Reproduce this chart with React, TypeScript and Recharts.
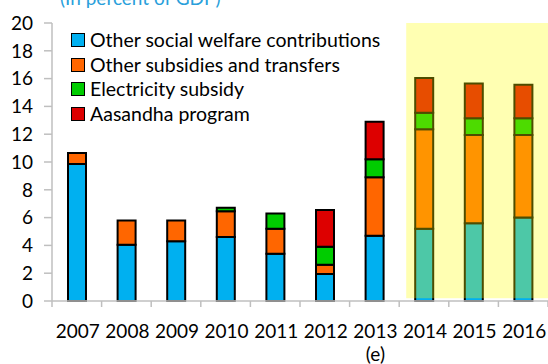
import { Bar, BarChart, ReferenceArea, XAxis, YAxis } from "recharts";

const years = ["2007", "2008", "2009", "2010", "2011", "2012", "2013", "2014", "2015", "2016"];
const welfare = [9.85, 4.05, 4.3, 4.6, 3.4, 1.95, 4.7, 5.2, 5.6, 6.0];
const otherSubsidies = [0.8, 1.75, 1.5, 1.85, 1.8, 0.65, 4.2, 7.15, 6.35, 5.95];
const electricity = [0, 0, 0, 0.25, 1.1, 1.3, 1.3, 1.2, 1.2, 1.2];
const aasandha = [0, 0, 0, 0, 0, 2.65, 2.7, 2.5, 2.5, 2.4];
const estimated = ["2013"];
const projStart = "2014";
const projEnd = "2016";
const yTicks = [0, 2, 4, 6, 8, 10, 12, 14, 16, 18, 20];

const series = [
  { key: "welfare", name: "Other social welfare contributions", color: "#00b0f0" },
  { key: "other", name: "Other subsidies and transfers", color: "#ff6600" },
  { key: "elec", name: "Electricity subsidy", color: "#00cc00" },
  { key: "aas", name: "Aasandha program", color: "#dd0000" },
];

const data = years.map((year, i) => ({
  year,
  welfare: welfare[i],
  other: otherSubsidies[i],
  elec: electricity[i],
  aas: aasandha[i],
}));

const W = 548;
const H = 364;
const LEFT = 52;
const BAND = (W - LEFT) / years.length;
const font = "Lato, 'Open Sans', sans-serif";
const axisGrey = "#bfbfbf";

function YearTick(props: any) {
  const { x, y, payload, index } = props;
  return (
    <g>
      <line x1={x - BAND / 2} x2={x - BAND / 2} y1={y} y2={y + 6} stroke={axisGrey} strokeWidth={1.5} />
      {index === years.length - 1 && (
        <line x1={x + BAND / 2} x2={x + BAND / 2} y1={y} y2={y + 6} stroke={axisGrey} strokeWidth={1.5} />
      )}
      <text x={x + 1} y={y + 29} textAnchor="middle" dominantBaseline="central" fontSize={19} fill="#000" fontFamily={font}>
        {payload.value}
      </text>
      {estimated.includes(payload.value) && (
        <text x={x + 1} y={y + 52} textAnchor="middle" dominantBaseline="central" fontSize={19} fill="#000" fontFamily={font}>
          (e)
        </text>
      )}
    </g>
  );
}

function LegendBox() {
  return (
    <div
      style={{
        position: "absolute",
        left: 71,
        top: 28,
        fontFamily: font,
        fontSize: 19.5,
        lineHeight: "24.5px",
        color: "#000",
      }}
    >
      {series.map((s) => (
        <div key={s.key} style={{ display: "flex", alignItems: "center", whiteSpace: "nowrap" }}>
          <span
            style={{
              display: "inline-block",
              width: 12,
              height: 12,
              background: s.color,
              border: "1.5px solid #000",
              marginRight: 5,
            }}
          />
          {s.name}
        </div>
      ))}
    </div>
  );
}

export default function App() {
  return (
    <div style={{ position: "absolute", left: 0, top: 0, width: W, height: H, overflow: "hidden", background: "#fff" }}>
      <BarChart
        width={W}
        height={H}
        data={data}
        margin={{ top: 23, right: 0, bottom: 0, left: 0 }}
        barSize={18}
      >
        <XAxis
          dataKey="year"
          interval={0}
          height={63}
          tickLine={false}
          tickSize={0}
          tickMargin={0}
          axisLine={{ stroke: axisGrey, strokeWidth: 1.5 }}
          tick={<YearTick />}
        />
        <YAxis
          width={LEFT}
          domain={[0, 20]}
          ticks={yTicks}
          interval={0}
          tickSize={8}
          tickMargin={11}
          axisLine={{ stroke: axisGrey, strokeWidth: 1.5 }}
          tickLine={{ stroke: axisGrey, strokeWidth: 1.5 }}
          tick={{ fill: "#000", fontSize: 19, fontFamily: font }}
        />
        {series.map((s) => (
          <Bar
            key={s.key}
            dataKey={s.key}
            name={s.name}
            stackId="a"
            fill={s.color}
            stroke="#000"
            strokeWidth={2}
            isAnimationActive={false}
          />
        ))}
        <ReferenceArea
          x1={projStart}
          x2={projEnd}
          y1={0.2}
          y2={20}
          fill="#ffff00"
          fillOpacity={0.3}
          stroke="none"
          zIndex={450}
          shape={(p: any) => <rect x={p.x + 7} y={p.y} width={p.width - 7} height={p.height} fill="#ffff00" fillOpacity={0.3} />}
        />
      </BarChart>
      <LegendBox />
      <div
        style={{
          position: "absolute",
          left: 60,
          top: -14,
          fontFamily: font,
          fontSize: 19,
          color: "#2a9fdb",
          whiteSpace: "nowrap",
        }}
      >
        (In percent of GDP)
      </div>
    </div>
  );
}
